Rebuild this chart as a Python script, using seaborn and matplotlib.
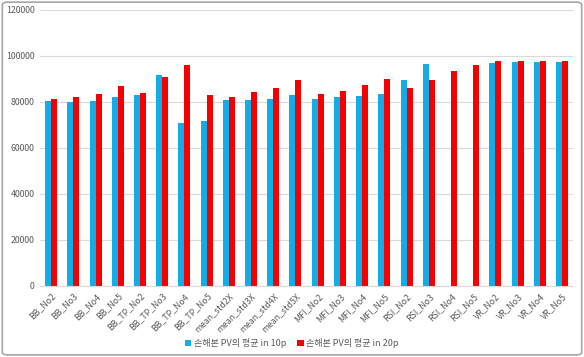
import pandas as pd
import matplotlib.pyplot as plt
import seaborn as sns
from matplotlib.patches import FancyBboxPatch

# Data
categories = ["BB_No2", "BB_No3", "BB_No4", "BB_No5", "BB_TP_No2", "BB_TP_No3",
              "BB_TP_No4", "BB_TP_No5", "mean_std2X", "mean_std3X", "mean_std4X",
              "mean_std5X", "MFI_No2", "MFI_No3", "MFI_No4", "MFI_No5", "RSI_No2",
              "RSI_No3", "RSI_No4", "RSI_No5", "VR_No2", "VR_No3", "VR_No4", "VR_No5"]
pv_10p = [80500, 80100, 80500, 82000, 83200, 91600, 70900, 71900, 80900, 80900,
          81400, 83200, 81400, 82000, 82600, 83500, 89400, 96400, 0, 0,
          96900, 97400, 97400, 97400]
pv_20p = [81200, 82000, 83500, 87000, 83800, 90900, 96000, 83200, 82300, 84200,
          86100, 89400, 83500, 84800, 87200, 90000, 86000, 89400, 93300, 96000,
          97800, 97800, 97800, 97800]
series = ["손해본 PV의 평균 in 10p", "손해본 PV의 평균 in 20p"]
yticks = [0, 20000, 40000, 60000, 80000, 100000, 120000]

df = pd.DataFrame({
    "category": categories * 2,
    "value": pv_10p + pv_20p,
    "series": [series[0]] * len(categories) + [series[1]] * len(categories),
})

sns.set_style("white")
plt.rcParams['font.family'] = ['Noto Sans CJK KR', 'DejaVu Sans']

fig = plt.figure(figsize=(5.84, 3.57), dpi=100)
ax = fig.add_axes([0.0685, 0.199, 0.913, 0.773])

palette = {series[0]: "#12ACE6", series[1]: "#F50000"}
sns.barplot(data=df, x="category", y="value", hue="series", palette=palette,
            width=0.54, gap=0, saturation=1, ax=ax, edgecolor="none", legend=True)

ax.set_ylim(0, 120000)
ax.set_yticks(yticks)
ax.set_xlim(-0.5, len(categories) - 0.5)
ax.set_xlabel("")
ax.set_ylabel("")
ax.grid(True, axis="y", color="#D9D9D9", linewidth=0.8)
ax.set_axisbelow(True)
for s in ["top", "right", "left"]:
    ax.spines[s].set_visible(False)
ax.spines["bottom"].set_color("#D9D9D9")
ax.tick_params(axis="both", length=0, labelsize=6.3, colors="#595959", pad=4)
plt.setp(ax.get_xticklabels(), rotation=45, ha="right", rotation_mode="anchor")

h, l = ax.get_legend_handles_labels()
ax.legend(h, l, loc="center", ncol=2, frameon=False, fontsize=6.5,
          handlelength=0.7, handleheight=0.7, handletextpad=0.3,
          columnspacing=1.2, labelcolor="#595959")
leg = ax.get_legend()
leg.set_bbox_to_anchor((0.5, 1 - 343 / 357), transform=fig.transFigure)

# chart frame
fig.patches.append(FancyBboxPatch((0.004, 0.006), 0.992, 0.988,
                                  boxstyle="round,pad=0,rounding_size=0.008",
                                  transform=fig.transFigure, fill=False,
                                  edgecolor="#A6A6A6", linewidth=1.2))

fig.savefig("out.png", dpi=100)
